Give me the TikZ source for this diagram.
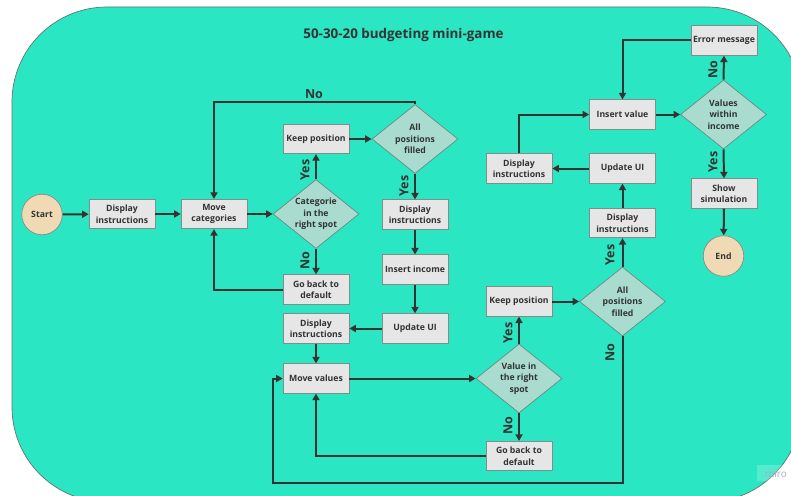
\documentclass[tikz,border=0pt]{standalone}
\usepackage{fontspec}
\setmainfont{Open Sans}
\usetikzlibrary{shapes.geometric,arrows.meta}
\definecolor{boardfill}{RGB}{42,230,194}
\definecolor{boardline}{RGB}{95,120,112}
\definecolor{ink}{RGB}{51,51,51}
\definecolor{boxfill}{RGB}{230,230,230}
\definecolor{boxline}{RGB}{130,140,136}
\definecolor{decfill}{RGB}{170,219,207}
\definecolor{decline}{RGB}{105,140,130}
\definecolor{termfill}{RGB}{240,218,182}
\definecolor{termline}{RGB}{140,140,130}
\definecolor{markink}{RGB}{172,170,196}
\tikzset{
  stepbox/.style={rectangle, draw=boxline, fill=boxfill, line width=0.7pt,
    minimum width=66pt, minimum height=29.5pt, inner sep=1pt, align=center,
    text=ink, font=\fontsize{8.7}{11.5}\selectfont\bfseries},
  decision/.style={diamond, draw=decline, fill=decfill, line width=0.7pt,
    aspect=1.25, inner sep=0pt, minimum width=86pt, minimum height=69pt,
    align=center, text=ink, font=\fontsize{8.7}{11.5}\selectfont\bfseries},
  terminal/.style={circle, draw=termline, fill=termfill, line width=0.7pt,
    minimum size=40.5pt, inner sep=0pt, text=ink,
    font=\fontsize{8.7}{11.5}\selectfont\bfseries},
  flow/.style={draw=ink, line width=2pt, -{Triangle[length=6.5pt,width=7pt]}},
  answer/.style={text=ink, font=\fontsize{12.5}{14}\selectfont\bfseries, inner sep=0pt},
  upanswer/.style={answer, rotate=90},
}
\begin{document}
\begin{tikzpicture}[x=1pt, y=-1pt]
\useasboundingbox (0,0) rectangle (791,495);
\clip (0,0) rectangle (791,495);
% board
\path[fill=boardfill, draw=boardline, line width=0.7pt, rounded corners=95pt]
  (12,7) rectangle (802,502);

\node[text=ink, font=\fontsize{13.4}{15}\selectfont\bfseries] (title) at (403.5,35) {50-30-20 budgeting mini-game};

% first stage: sorting the categories
\node[terminal] (start) at (42,214.5) {Start};
\node[stepbox] (disp1) at (122,214) {Display\\instructions};
\node[stepbox] (movecat) at (214,214) {Move\\categories};
\node[decision] (catspot) at (316,214) {Categorie\\in the\\right spot};
\node[stepbox] (keep1) at (316,139) {Keep position};
\node[decision] (all1) at (415,139) {All\\positions\\filled};
\node[stepbox] (goback1) at (316,289.5) {Go back to\\default};
\node[stepbox] (disp2) at (415,214.5) {Display\\instructions};
\node[stepbox] (income) at (415,269.5) {Insert income};
\node[stepbox] (upd1) at (415,328.5) {Update UI};
\node[stepbox] (disp3) at (316,328.5) {Display\\instructions};

% second stage: sorting the values
\node[stepbox] (movevals) at (316,378.5) {Move values};
\node[decision] (valspot) at (519,378.5) {Value in\\the right\\spot};
\node[stepbox] (keep2) at (519,301.5) {Keep position};
\node[stepbox] (goback2) at (519,456) {Go back to\\default};
\node[decision] (all2) at (622.5,301.5) {All\\positions\\filled};
\node[stepbox] (disp4) at (622.5,223) {Display\\instructions};
\node[stepbox] (upd2) at (622.5,168.5) {Update UI};
\node[stepbox] (disp5) at (519,168.5) {Display\\instructions};

% third stage: entering the values
\node[stepbox] (insval) at (622.5,114.5) {Insert value};
\node[decision] (within) at (723.5,114.5) {Values\\within\\income};
\node[stepbox] (error) at (724,40.5) {Error message};
\node[stepbox] (showsim) at (724,193.5) {Show\\simulation};
\node[terminal] (end) at (723.5,256) {End};

\coordinate (loopR) at (622.5,483);
\coordinate (loopL) at (273,483);

% connectors
\draw[flow] (start) -- (disp1);
\draw[flow] (disp1) -- (movecat);
\draw[flow] (movecat) -- (catspot);
\draw[flow] (catspot.north) -- (keep1.south);
\draw[flow] (keep1) -- (all1);
\draw[flow] (all1.north) -- ++(0,-2) -| (movecat.north);
\draw[flow] (all1.south) -- (disp2.north);
\draw[flow] (disp2) -- (income);
\draw[flow] (income) -- (upd1);
\draw[flow] (upd1) -- (disp3);
\draw[flow] (catspot.south) -- (goback1.north);
\draw[flow] (goback1.west) -| (movecat.south);
\draw[flow] (disp3) -- (movevals);
\draw[flow] (movevals) -- (valspot);
\draw[flow] (valspot.north) -- (keep2.south);
\draw[flow] (valspot.south) -- (goback2.north);
\draw[flow] (goback2.west) -| (movevals.south);
\draw[flow] (keep2) -- (all2);
\draw[flow] (all2.north) -- (disp4.south);
\draw[flow] (all2.south) -- (loopR) -- (loopL) |- (movevals.west);
\draw[flow] (disp4) -- (upd2);
\draw[flow] (upd2) -- (disp5);
\draw[flow] (disp5.north) |- (insval.west);
\draw[flow] (insval) -- (within);
\draw[flow] (within.north) -- (error.south);
\draw[flow] (error.west) -| (insval.north);
\draw[flow] (within.south) -- (showsim.north);
\draw[flow] (showsim) -- (end);

% answers
\node[answer] (no1) at (314,94) {No};
\node[upanswer] (yes1) at (305,170) {Yes};
\node[upanswer] (yes2) at (404,186) {Yes};
\node[upanswer] (no2) at (305,261) {No};
\node[upanswer] (yes3) at (508,333) {Yes};
\node[upanswer] (no3) at (508,426) {No};
\node[upanswer] (yes4) at (610,255) {Yes};
\node[upanswer] (no4) at (610,353) {No};
\node[upanswer] (no5) at (713,70) {No};
\node[upanswer] (yes5) at (713,162) {Yes};

% watermark
\fill[white, opacity=0.2] (757,465) rectangle (791,481);
\node[text=markink, font=\fontsize{10}{11}\selectfont] (mark) at (776,474) {miro};
\end{tikzpicture}
\end{document}
